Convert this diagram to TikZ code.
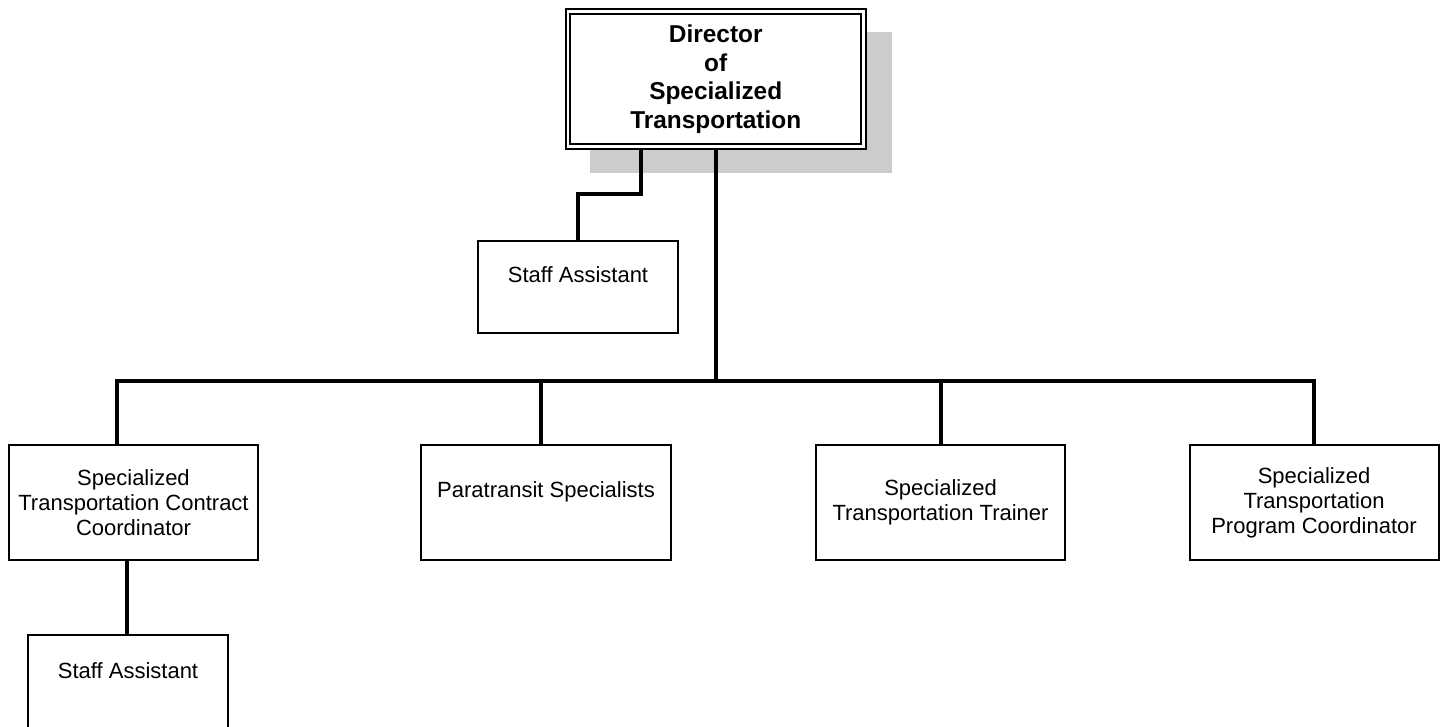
\documentclass[tikz,border=0pt]{standalone}
\usepackage{fontspec}
\setmainfont{Liberation Sans}
\usetikzlibrary{backgrounds}
\begin{document}
\begin{tikzpicture}[x=0.5pt,y=-0.5pt,
  box/.style={draw, line width=1pt, fill=white, inner sep=0pt,
    minimum width=124.5pt, minimum height=57.5pt, align=center,
    font=\fontsize{11}{12.5}\selectfont},
  smallbox/.style={box, minimum width=100pt, minimum height=46pt},
  headbox/.style={draw, fill=white, line width=0.9pt, double, double distance=1.4pt,
    inner sep=0pt, minimum width=147.75pt, minimum height=67.5pt, align=center,
    font=\fontsize{12.2}{14.25}\selectfont\bfseries},
  conn/.style={line width=1.65pt, line join=miter},
  shade/.style={fill=black!20}]
\useasboundingbox (0,0) rectangle (1444,727);

% junction points of the connector lines
\coordinate (bend) at (641,194);
\coordinate (trunk) at (716,381);
\coordinate (b1) at (117,381);
\coordinate (b2) at (541,381);
\coordinate (b3) at (941,381);
\coordinate (b4) at (1314,381);
\coordinate (sub) at (127,600);

% boxes
\node[headbox] (dir) at (715.75,79) {Director\\of\\Specialized\\Transportation};
\node[smallbox] (staffA) at (578,287) {Staff Assistant\\~};
\node[box] (coord) at (133.5,502.5) {Specialized\\Transportation Contract\\Coordinator};
\node[box, minimum width=125pt] (para) at (546,502.5) {Paratransit Specialists\\~};
\node[box] (train) at (940.5,502.5) {Specialized\\Transportation Trainer};
\node[box] (prog) at (1314,502.5) {Specialized\\Transportation\\Program Coordinator};
\node[smallbox, minimum height=48pt] (staffB) at (128,683) {Staff Assistant\\~};

\begin{scope}[on background layer]
  % drop shadow behind the director box
  \fill[shade] (590,32) rectangle (892,173);
  % connectors
  \draw[conn] (dir.south -| bend) -- (bend) -| (staffA.north);
  \draw[conn] (dir.south -| trunk) -- (trunk);
  \draw[conn] (coord.north -| b1) -- (b1) -- (b4) -- (prog.north -| b4);
  \draw[conn] (b2) -- (para.north -| b2);
  \draw[conn] (b3) -- (train.north -| b3);
  \draw[conn] (coord.south -| sub) -- (staffB.north -| sub);
\end{scope}
\end{tikzpicture}
\end{document}
